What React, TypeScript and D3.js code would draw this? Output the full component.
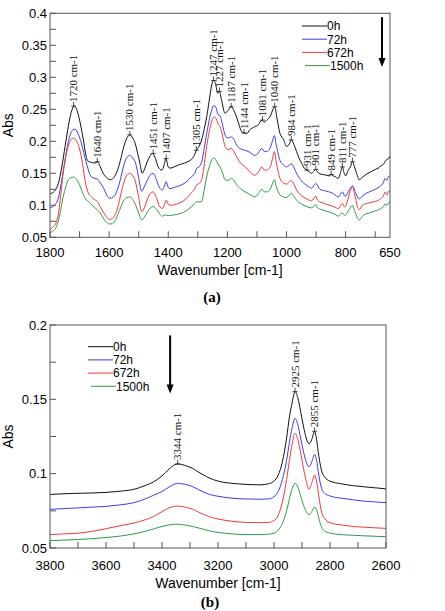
import React from 'react';
import * as d3 from 'd3';

type Pt = [number, number];

// ---- (a) 1800-650 cm-1 ----
const a0h: Pt[] = [
  [1800, 0.118], [1785, 0.122], [1772, 0.134], [1760, 0.160], [1749, 0.192], [1740, 0.218],
  [1732, 0.238], [1725, 0.250], [1718, 0.255], [1710, 0.250], [1704, 0.241], [1695, 0.222],
  [1687, 0.202], [1680, 0.182], [1676, 0.173], [1668, 0.168], [1659, 0.167], [1648, 0.166],
  [1640, 0.168], [1630, 0.160], [1620, 0.150], [1608, 0.143], [1597, 0.140], [1585, 0.143],
  [1574, 0.152], [1562, 0.170], [1552, 0.189], [1540, 0.205], [1530, 0.210], [1520, 0.205],
  [1512, 0.197], [1504, 0.182], [1496, 0.166], [1488, 0.150], [1480, 0.157], [1473, 0.166],
  [1463, 0.176], [1454, 0.181], [1445, 0.175], [1434, 0.160], [1422, 0.155], [1414, 0.163],
  [1408, 0.173], [1400, 0.160], [1394, 0.158], [1380, 0.160], [1366, 0.163], [1345, 0.166],
  [1330, 0.169], [1321, 0.172], [1312, 0.178], [1305, 0.186], [1296, 0.192], [1287, 0.202],
  [1278, 0.220], [1270, 0.238], [1262, 0.262], [1253, 0.288], [1247, 0.295], [1240, 0.290],
  [1233, 0.275], [1227, 0.278], [1220, 0.265], [1208, 0.244], [1198, 0.248], [1187, 0.254],
  [1178, 0.248], [1169, 0.238], [1160, 0.225], [1152, 0.215], [1144, 0.213], [1135, 0.212],
  [1124, 0.218], [1107, 0.223], [1095, 0.226], [1084, 0.233], [1075, 0.230], [1067, 0.233],
  [1053, 0.241], [1046, 0.250], [1040, 0.254], [1032, 0.235], [1022, 0.212], [1010, 0.203],
  [1000, 0.192], [990, 0.196], [984, 0.202], [975, 0.195], [966, 0.184], [958, 0.174],
  [949, 0.166], [940, 0.158], [931, 0.155], [923, 0.152], [915, 0.150], [908, 0.153],
  [901, 0.156], [895, 0.152], [887, 0.149], [875, 0.148], [864, 0.147], [855, 0.146],
  [849, 0.148], [842, 0.146], [836, 0.145], [825, 0.142], [818, 0.150], [811, 0.160],
  [805, 0.150], [800, 0.146], [791, 0.155], [784, 0.160], [777, 0.168], [770, 0.160],
  [763, 0.150], [754, 0.140], [745, 0.143], [735, 0.147], [725, 0.150], [712, 0.153],
  [700, 0.156], [690, 0.158], [680, 0.162], [672, 0.164], [665, 0.170], [658, 0.172],
  [650, 0.177],
];

const a72h: Pt[] = [
  [1800, 0.096], [1785, 0.100], [1772, 0.111], [1760, 0.140], [1749, 0.171], [1740, 0.195],
  [1732, 0.210], [1722, 0.218], [1715, 0.219], [1705, 0.212], [1699, 0.205], [1690, 0.190],
  [1682, 0.175], [1672, 0.158], [1665, 0.148], [1655, 0.143], [1640, 0.141], [1630, 0.135],
  [1620, 0.128], [1608, 0.116], [1598, 0.111], [1585, 0.113], [1574, 0.122], [1562, 0.140],
  [1552, 0.160], [1540, 0.175], [1530, 0.178], [1520, 0.174], [1510, 0.165], [1500, 0.143],
  [1490, 0.122], [1480, 0.130], [1470, 0.140], [1460, 0.148], [1451, 0.150], [1440, 0.140],
  [1430, 0.128], [1420, 0.124], [1413, 0.130], [1407, 0.137], [1400, 0.128], [1394, 0.126],
  [1380, 0.128], [1360, 0.131], [1340, 0.136], [1321, 0.145], [1310, 0.150], [1304, 0.158],
  [1296, 0.160], [1287, 0.168], [1278, 0.190], [1270, 0.212], [1260, 0.236], [1253, 0.249],
  [1246, 0.256], [1238, 0.252], [1232, 0.242], [1225, 0.240], [1216, 0.225], [1208, 0.210],
  [1198, 0.205], [1186, 0.207], [1178, 0.203], [1169, 0.194], [1155, 0.188], [1140, 0.186],
  [1125, 0.183], [1107, 0.178], [1095, 0.182], [1084, 0.189], [1075, 0.184], [1067, 0.184],
  [1055, 0.190], [1046, 0.203], [1041, 0.209], [1035, 0.195], [1022, 0.170], [1010, 0.163],
  [1000, 0.160], [990, 0.163], [984, 0.165], [975, 0.159], [966, 0.150], [949, 0.138],
  [931, 0.131], [915, 0.127], [901, 0.134], [887, 0.125], [864, 0.122], [840, 0.118],
  [825, 0.113], [811, 0.121], [802, 0.114], [790, 0.122], [777, 0.130], [765, 0.118],
  [754, 0.110], [740, 0.116], [720, 0.121], [700, 0.125], [685, 0.129], [672, 0.136],
  [667, 0.142], [660, 0.139], [655, 0.145], [650, 0.146],
];

const a672h: Pt[] = [
  [1800, 0.062], [1790, 0.066], [1780, 0.072], [1772, 0.085], [1765, 0.110], [1757, 0.145],
  [1749, 0.170], [1740, 0.190], [1730, 0.202], [1720, 0.205], [1710, 0.200], [1700, 0.188],
  [1690, 0.165], [1680, 0.135], [1670, 0.119], [1660, 0.113], [1650, 0.109], [1640, 0.106],
  [1630, 0.098], [1620, 0.090], [1610, 0.082], [1600, 0.078], [1590, 0.079], [1580, 0.085],
  [1570, 0.098], [1560, 0.118], [1550, 0.136], [1540, 0.147], [1530, 0.150], [1520, 0.146],
  [1510, 0.135], [1500, 0.112], [1490, 0.090], [1480, 0.097], [1470, 0.110], [1460, 0.119],
  [1451, 0.121], [1440, 0.112], [1430, 0.099], [1420, 0.095], [1413, 0.101], [1407, 0.108],
  [1400, 0.102], [1394, 0.100], [1380, 0.101], [1360, 0.104], [1340, 0.110], [1321, 0.120],
  [1310, 0.126], [1304, 0.132], [1296, 0.134], [1287, 0.140], [1278, 0.165], [1270, 0.192],
  [1260, 0.218], [1253, 0.231], [1245, 0.238], [1238, 0.235], [1230, 0.226], [1225, 0.223],
  [1216, 0.208], [1208, 0.192], [1198, 0.187], [1186, 0.189], [1178, 0.184], [1169, 0.176],
  [1155, 0.166], [1140, 0.160], [1125, 0.153], [1107, 0.147], [1095, 0.152], [1084, 0.160],
  [1075, 0.155], [1067, 0.155], [1055, 0.160], [1046, 0.176], [1041, 0.184], [1035, 0.168],
  [1022, 0.142], [1010, 0.135], [1000, 0.133], [990, 0.137], [984, 0.139], [975, 0.133],
  [966, 0.124], [949, 0.115], [932, 0.110], [915, 0.107], [901, 0.114], [895, 0.108],
  [880, 0.104], [860, 0.101], [840, 0.098], [825, 0.095], [818, 0.099], [811, 0.103],
  [803, 0.097], [795, 0.105], [785, 0.122], [777, 0.130], [770, 0.118], [760, 0.098],
  [754, 0.093], [745, 0.099], [735, 0.102], [720, 0.104], [700, 0.106], [685, 0.109],
  [672, 0.115], [667, 0.121], [660, 0.116], [655, 0.122], [650, 0.122],
];

const a1500h: Pt[] = [
  [1800, 0.057], [1790, 0.060], [1780, 0.065], [1772, 0.075], [1765, 0.090], [1757, 0.110],
  [1749, 0.125], [1740, 0.138], [1730, 0.143], [1720, 0.144], [1710, 0.140], [1700, 0.132],
  [1690, 0.120], [1680, 0.110], [1670, 0.106], [1660, 0.101], [1650, 0.097], [1640, 0.093],
  [1630, 0.088], [1620, 0.080], [1610, 0.074], [1600, 0.071], [1590, 0.071], [1580, 0.076],
  [1570, 0.086], [1560, 0.098], [1550, 0.108], [1540, 0.112], [1530, 0.113], [1520, 0.109],
  [1510, 0.100], [1500, 0.088], [1490, 0.077], [1480, 0.082], [1470, 0.090], [1460, 0.096],
  [1451, 0.098], [1440, 0.094], [1430, 0.087], [1420, 0.083], [1410, 0.085], [1400, 0.084],
  [1380, 0.085], [1360, 0.087], [1340, 0.091], [1321, 0.098], [1310, 0.103], [1304, 0.106],
  [1296, 0.105], [1287, 0.106], [1278, 0.125], [1270, 0.145], [1260, 0.162], [1253, 0.171],
  [1245, 0.174], [1238, 0.170], [1230, 0.163], [1225, 0.160], [1216, 0.150], [1208, 0.140],
  [1198, 0.139], [1186, 0.142], [1178, 0.139], [1169, 0.132], [1155, 0.126], [1140, 0.121],
  [1125, 0.117], [1107, 0.113], [1095, 0.118], [1084, 0.125], [1075, 0.121], [1067, 0.121],
  [1055, 0.125], [1046, 0.136], [1041, 0.140], [1035, 0.130], [1022, 0.116], [1010, 0.113],
  [1000, 0.112], [990, 0.116], [984, 0.119], [975, 0.114], [966, 0.108], [949, 0.102],
  [932, 0.098], [915, 0.096], [901, 0.101], [895, 0.096], [880, 0.093], [860, 0.090],
  [840, 0.087], [825, 0.083], [818, 0.086], [811, 0.088], [803, 0.084], [795, 0.088],
  [785, 0.096], [777, 0.100], [770, 0.092], [760, 0.080], [754, 0.077], [745, 0.082],
  [735, 0.086], [720, 0.088], [700, 0.091], [685, 0.094], [672, 0.098], [667, 0.102],
  [660, 0.100], [655, 0.104], [650, 0.106],
];

const peaksA = [1720, 1640, 1530, 1451, 1407, 1305, 1247, 1227, 1187, 1144, 1081, 1040, 984, 931, 901, 849, 811, 777];
const peakAbsA = [0.255, 0.168, 0.210, 0.181, 0.173, 0.186, 0.295, 0.278, 0.254, 0.213, 0.233, 0.254, 0.202, 0.155, 0.156, 0.148, 0.160, 0.168];
const xLabelsA = [1800, 1600, 1400, 1200, 1000, 800, 650];
const yLabelsA = [0.05, 0.1, 0.15, 0.2, 0.25, 0.3, 0.35, 0.4];

// ---- (b) 3800-2600 cm-1 ----
const b0h: Pt[] = [
  [3800, 0.0860], [3750, 0.0865], [3700, 0.0868], [3650, 0.0870], [3600, 0.0874], [3550, 0.0882],
  [3500, 0.0895], [3460, 0.0920], [3430, 0.0945], [3400, 0.0985], [3375, 0.1030], [3355, 0.1060],
  [3344, 0.1065], [3330, 0.1062], [3310, 0.1050], [3290, 0.1035], [3270, 0.1010], [3250, 0.0990],
  [3230, 0.0970], [3200, 0.0950], [3150, 0.0935], [3100, 0.0928], [3050, 0.0925], [3020, 0.0932],
  [3000, 0.0950], [2985, 0.0990], [2970, 0.1080], [2955, 0.1240], [2945, 0.1380], [2935, 0.1480],
  [2925, 0.1552], [2915, 0.1510], [2905, 0.1420], [2895, 0.1320], [2885, 0.1240], [2875, 0.1200],
  [2865, 0.1230], [2855, 0.1285], [2848, 0.1230], [2840, 0.1120], [2830, 0.1020], [2820, 0.0980],
  [2800, 0.0950], [2760, 0.0932], [2720, 0.0920], [2680, 0.0912], [2640, 0.0905], [2600, 0.0898],
];

const b72h: Pt[] = [
  [3800, 0.0760], [3750, 0.0765], [3700, 0.0770], [3650, 0.0775], [3600, 0.0780], [3550, 0.0790],
  [3500, 0.0805], [3460, 0.0830], [3430, 0.0855], [3400, 0.0880], [3375, 0.0910], [3355, 0.0930],
  [3344, 0.0935], [3330, 0.0932], [3310, 0.0925], [3290, 0.0912], [3270, 0.0893], [3250, 0.0875],
  [3230, 0.0860], [3200, 0.0848], [3150, 0.0835], [3100, 0.0830], [3050, 0.0828], [3020, 0.0830],
  [3000, 0.0845], [2985, 0.0880], [2970, 0.0960], [2955, 0.1090], [2945, 0.1210], [2935, 0.1310],
  [2925, 0.1372], [2915, 0.1330], [2905, 0.1240], [2895, 0.1150], [2885, 0.1080], [2875, 0.1045],
  [2865, 0.1080], [2855, 0.1130], [2848, 0.1090], [2840, 0.0990], [2830, 0.0900], [2820, 0.0870],
  [2800, 0.0850], [2760, 0.0835], [2720, 0.0825], [2680, 0.0815], [2640, 0.0810], [2600, 0.0805],
];

const b672h: Pt[] = [
  [3800, 0.0590], [3750, 0.0595], [3700, 0.0600], [3650, 0.0612], [3600, 0.0630], [3550, 0.0650],
  [3500, 0.0668], [3460, 0.0690], [3430, 0.0712], [3400, 0.0745], [3375, 0.0770], [3355, 0.0780],
  [3344, 0.0782], [3330, 0.0780], [3310, 0.0772], [3290, 0.0760], [3270, 0.0742], [3250, 0.0725],
  [3230, 0.0710], [3200, 0.0695], [3150, 0.0680], [3100, 0.0672], [3050, 0.0670], [3020, 0.0672],
  [3000, 0.0685], [2985, 0.0720], [2970, 0.0810], [2955, 0.0960], [2945, 0.1090], [2935, 0.1200],
  [2925, 0.1271], [2915, 0.1230], [2905, 0.1140], [2895, 0.1040], [2885, 0.0950], [2875, 0.0895],
  [2865, 0.0940], [2855, 0.0990], [2848, 0.0950], [2840, 0.0850], [2830, 0.0740], [2820, 0.0700],
  [2800, 0.0670], [2760, 0.0655], [2720, 0.0645], [2680, 0.0640], [2640, 0.0636], [2600, 0.0632],
];

const b1500h: Pt[] = [
  [3800, 0.0550], [3750, 0.0553], [3700, 0.0557], [3650, 0.0563], [3600, 0.0570], [3550, 0.0580],
  [3500, 0.0595], [3460, 0.0612], [3430, 0.0628], [3400, 0.0645], [3375, 0.0655], [3355, 0.0660],
  [3344, 0.0660], [3330, 0.0658], [3310, 0.0652], [3290, 0.0645], [3270, 0.0635], [3250, 0.0625],
  [3230, 0.0615], [3200, 0.0605], [3150, 0.0595], [3100, 0.0590], [3050, 0.0590], [3020, 0.0593],
  [3000, 0.0600], [2985, 0.0620], [2970, 0.0665], [2955, 0.0750], [2945, 0.0830], [2935, 0.0900],
  [2925, 0.0935], [2915, 0.0910], [2905, 0.0850], [2895, 0.0790], [2885, 0.0745], [2875, 0.0725],
  [2865, 0.0745], [2855, 0.0775], [2848, 0.0760], [2840, 0.0700], [2830, 0.0640], [2820, 0.0615],
  [2800, 0.0600], [2760, 0.0590], [2720, 0.0586], [2680, 0.0582], [2640, 0.0579], [2600, 0.0576],
];

const peaksB = [3344, 2925, 2855];
const peakAbsB = [0.1065, 0.1552, 0.1285];
const xLabelsB = [3800, 3600, 3400, 3200, 3000, 2800, 2600];
const yLabelsB = [0.05, 0.1, 0.15, 0.2];

const seriesNames = ['0h', '72h', '672h', '1500h'];
const seriesColors = ['#111111', '#3c3cf0', '#f03a3a', '#2f9c45'];

const SANS = '"Liberation Sans", Arial, sans-serif';
const SERIF = '"Liberation Serif", "Times New Roman", serif';

interface PanelProps {
  id: string;
  left: number;
  top: number;
  width: number;
  height: number;
  xDomain: [number, number];
  yDomain: [number, number];
  series: Pt[][];
  xLabels: number[];
  yLabels: number[];
  peaks: number[];
  peakAbs: number[];
  legendX: number; // px offset from plot left
  legendY: number; // px offset from plot top
  arrow: [number, number, number]; // wavenumber, abs top, abs tip
  caption: string;
  captionY: number;
  labelGap: number;
}

const Panel: React.FC<PanelProps> = (p) => {
  const x = d3.scaleLinear().domain(p.xDomain).range([p.left, p.left + p.width]);
  const y = d3.scaleLinear().domain(p.yDomain).range([p.top + p.height, p.top]);
  const line = d3.line<Pt>().x((d) => x(d[0])).y((d) => y(d[1])).curve(d3.curveMonotoneX);
  const bottom = p.top + p.height;

  const xTicks = d3.range(p.xDomain[0], p.xDomain[1] - 1, -100);
  const yTicks = d3.range(p.yDomain[0], p.yDomain[1] + 0.001, 0.025);
  const [aw, aTop, aTip] = p.arrow;

  return (
    <g>
      <defs>
        <clipPath id={`clip-${p.id}`}>
          <rect x={p.left} y={p.top} width={p.width} height={p.height} />
        </clipPath>
      </defs>

      {/* spectra */}
      <g clipPath={`url(#clip-${p.id})`}>
        {p.series.map((s, i) => (
          <path key={i} d={line(s) || ''} fill="none" stroke={seriesColors[i]} strokeWidth={1} />
        ))}
      </g>

      {/* frame + ticks */}
      <rect x={p.left} y={p.top} width={p.width} height={p.height} fill="none" stroke="#555" strokeWidth={1} />
      {xTicks.map((t) => (
        <line key={t} x1={x(t)} x2={x(t)} y1={bottom} y2={bottom - 6} stroke="#555" />
      ))}
      {yTicks.map((t) => (
        <line key={t} x1={p.left} x2={p.left + 6} y1={y(t)} y2={y(t)} stroke="#555" />
      ))}

      {/* tick labels */}
      {p.xLabels.map((t) => (
        <text key={t} x={x(t)} y={bottom + p.labelGap} textAnchor="middle" fontFamily={SANS} fontSize={13}>
          {t}
        </text>
      ))}
      {p.yLabels.map((t) => (
        <text key={t} x={p.left - 3} y={y(t) + 4.5} textAnchor="end" fontFamily={SANS} fontSize={13}>
          {String(t)}
        </text>
      ))}

      {/* axis titles */}
      <text x={p.left + p.width / 2} y={bottom + p.labelGap + 18} textAnchor="middle" fontFamily={SANS} fontSize={14}>
        Wavenumber [cm-1]
      </text>
      <text
        transform={`translate(13, ${p.top + p.height / 2}) rotate(-90)`}
        textAnchor="middle"
        fontFamily={SANS}
        fontSize={14}
      >
        Abs
      </text>

      {/* peak annotations */}
      {p.peaks.map((w, i) => {
        const px = x(w);
        const py = y(p.peakAbs[i]);
        return (
          <g key={w}>
            <line x1={px} x2={px} y1={py} y2={py - 4} stroke="#222" strokeWidth={0.8} />
            <line x1={px - 2.5} x2={px + 2.5} y1={py} y2={py} stroke="#222" strokeWidth={0.8} />
            <text
              transform={`translate(${px}, ${py - 4}) rotate(-90)`}
              dy="0.33em"
              fontFamily={SERIF}
              fontSize={11}
              fill="#111"
            >
              {`${w} cm-1`}
            </text>
          </g>
        );
      })}

      {/* legend */}
      {seriesNames.map((n, i) => {
        const ly = p.top + p.legendY + i * 13.2;
        const lx = p.left + p.legendX + (i === 3 ? 3 : 0);
        return (
          <g key={n}>
            <line x1={lx} x2={lx + 25} y1={ly} y2={ly} stroke={seriesColors[i]} strokeWidth={1} />
            <text x={lx + 25} y={ly + 4.3} fontFamily={SANS} fontSize={12}>
              {n}
            </text>
          </g>
        );
      })}

      {/* arrow */}
      <line x1={x(aw)} x2={x(aw)} y1={y(aTop)} y2={y(aTip) - 6} stroke="#000" strokeWidth={2} />
      <polygon
        points={`${x(aw) - 3.5},${y(aTip) - 9} ${x(aw) + 3.5},${y(aTip) - 9} ${x(aw)},${y(aTip)}`}
        fill="#000"
      />

      {/* caption */}
      <text
        x={p.left + p.width / 2 - 8}
        y={p.captionY}
        textAnchor="middle"
        fontFamily={SERIF}
        fontWeight="bold"
        fontSize={15}
      >
        {p.caption}
      </text>
    </g>
  );
};

const App: React.FC = () => (
  <svg
    width={445}
    height={611}
    style={{ position: 'absolute', left: 0, top: 0, background: '#fff' }}
  >
    <Panel
      id="a"
      left={50}
      top={13.3}
      width={340}
      height={224}
      xDomain={[1800, 650]}
      yDomain={[0.05, 0.4]}
      series={[a0h, a72h, a672h, a1500h]}
      xLabels={xLabelsA}
      yLabels={yLabelsA}
      peaks={peaksA}
      peakAbs={peakAbsA}
      legendX={252}
      legendY={12.7}
      arrow={[677, 0.394, 0.316]}
      caption="(a)"
      captionY={302}
      labelGap={20}
    />
    <Panel
      id="b"
      left={50}
      top={325}
      width={336}
      height={223}
      xDomain={[3800, 2600]}
      yDomain={[0.05, 0.2]}
      series={[b0h, b72h, b672h, b1500h]}
      xLabels={xLabelsB}
      yLabels={yLabelsB}
      peaks={peaksB}
      peakAbs={peakAbsB}
      legendX={38}
      legendY={21.7}
      arrow={[3371, 0.193, 0.154]}
      caption="(b)"
      captionY={607}
      labelGap={22}
    />
  </svg>
);

export default App;
